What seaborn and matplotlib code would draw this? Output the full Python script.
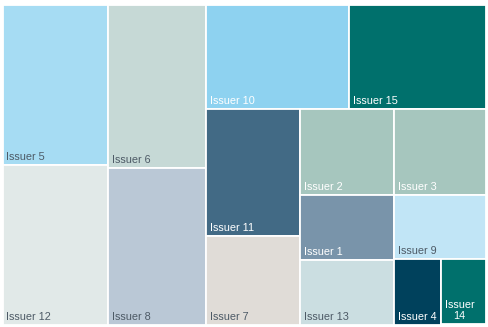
import matplotlib
matplotlib.use("Agg")
import matplotlib.pyplot as plt
from matplotlib.patches import Rectangle
import seaborn as sns

# ---- data ----
issuers = ["Issuer 5", "Issuer 12", "Issuer 6", "Issuer 8", "Issuer 10", "Issuer 15",
           "Issuer 11", "Issuer 7", "Issuer 2", "Issuer 3", "Issuer 1", "Issuer 13",
           "Issuer 9", "Issuer 4", "Issuer 14"]
weights = [10.9, 10.9, 10.4, 9.9, 9.7, 9.2, 7.7, 5.4, 5.2, 5.1, 4.0, 3.9, 3.8, 2.0, 1.9]
colors = ["#A6DCF3", "#E1E9E8", "#C6D9D6", "#BAC8D6", "#8ED2F0", "#00706C",
          "#426A85", "#E0DCD7", "#A6C6BE", "#A6C6BE", "#7994AA", "#CBDEE1",
          "#C1E5F6", "#00415C", "#00706C"]
label_colors = ["#4D5A66", "#4D5A66", "#4D5A66", "#4D5A66", "white", "white",
                "white", "#4D5A66", "white", "white", "white", "#4D5A66",
                "#4D5A66", "white", "white"]

TARGET = 0.83  # preferred thickness/length ratio of cells in a strip


def worst(row, short, target):
    s = sum(row)
    t = s / short
    m = 0.0
    for a in row:
        r = t / (a / t * 1.0) if False else t / (a / t)
        m = max(m, r / target, target / r)
    return m


def squarify(values, x, y, w, h, target):
    total = float(sum(values))
    areas = [v * w * h / total for v in values]
    rects = []
    i, n = 0, len(areas)
    while i < n:
        short = min(w, h)
        row = [areas[i]]
        j = i + 1
        best = worst(row, short, target)
        while j < n:
            cand = row + [areas[j]]
            m = worst(cand, short, target)
            if m > best:
                break
            row, best = cand, m
            j += 1
        if j >= n:
            row = areas[i:]
        s = sum(row)
        t = s / short
        if w >= h:
            yy = y
            for a in row:
                hh = a / t
                rects.append((x, yy, t, hh))
                yy += hh
            x += t
            w -= t
        else:
            xx = x
            for a in row:
                ww = a / t
                rects.append((xx, y, ww, t))
                xx += ww
            y += t
            h -= t
        i = j
    return rects


sns.set_theme(style="white")
plt.rcParams["font.family"] = ["Liberation Sans", "DejaVu Sans"]

W, H = 488, 327
fig = plt.figure(figsize=(W / 100, H / 100), dpi=100)
ax = fig.add_axes([0, 0, 1, 1])
ax.set_xlim(0, W)
ax.set_ylim(H, 0)
ax.axis("off")

rects = squarify(weights, 2.5, 4.5, 483, 320, TARGET)

fig.canvas.draw()
renderer = fig.canvas.get_renderer()

for (rx, ry, rw, rh), name, c, lc in zip(rects, issuers, colors, label_colors):
    ax.add_patch(Rectangle((rx, ry), rw, rh, facecolor=c, edgecolor="white",
                           linewidth=1.3))
    txt = ax.text(rx + 4, ry + rh - 3, name, color=lc, fontsize=7.8,
                  ha="left", va="bottom", multialignment="center")
    bb = txt.get_window_extent(renderer)
    if bb.width > rw - 6:
        txt.set_text(name.replace(" ", "\n"))

fig.savefig("out.png", dpi=100, facecolor="white")
